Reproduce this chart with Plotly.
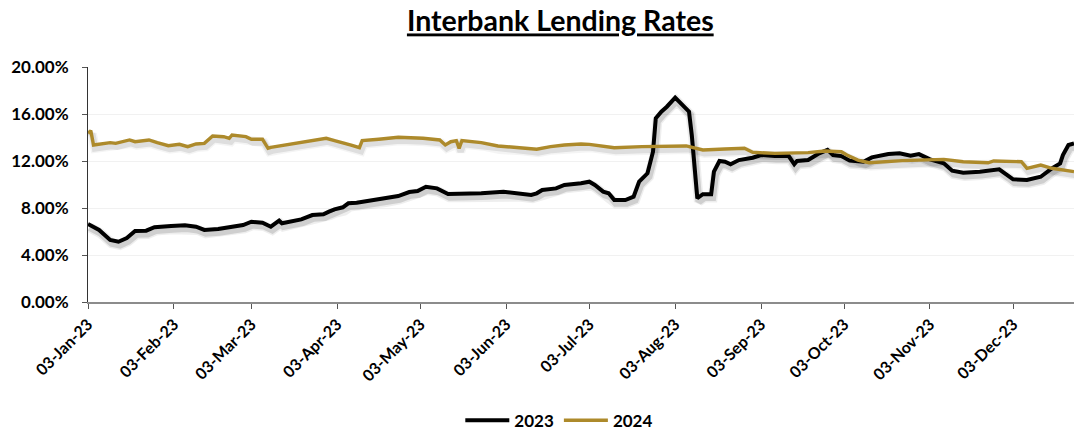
import plotly.graph_objects as go

# Interbank rate, 2023 (percent), sampled on axis dates
dates_2023 = [
    "2023-01-03", "2023-01-07", "2023-01-11", "2023-01-14", "2023-01-17", "2023-01-20",
    "2023-01-24", "2023-01-27", "2023-02-02", "2023-02-07", "2023-02-11", "2023-02-14",
    "2023-02-19", "2023-02-23", "2023-02-28", "2023-03-03", "2023-03-07", "2023-03-10",
    "2023-03-13", "2023-03-14", "2023-03-18", "2023-03-21", "2023-03-25", "2023-03-29",
    "2023-03-31", "2023-04-02", "2023-04-05", "2023-04-07", "2023-04-10", "2023-04-15",
    "2023-04-20", "2023-04-25", "2023-04-29", "2023-05-02", "2023-05-05", "2023-05-09",
    "2023-05-13", "2023-05-18", "2023-05-25", "2023-06-02", "2023-06-07", "2023-06-12",
    "2023-06-14", "2023-06-16", "2023-06-21", "2023-06-24", "2023-06-30", "2023-07-03",
    "2023-07-05", "2023-07-08", "2023-07-10", "2023-07-12", "2023-07-16", "2023-07-19",
    "2023-07-21", "2023-07-24", "2023-07-26", "2023-07-27", "2023-07-29", "2023-07-31",
    "2023-08-03", "2023-08-05", "2023-08-08", "2023-08-09", "2023-08-10", "2023-08-11",
    "2023-08-13", "2023-08-16", "2023-08-17", "2023-08-19", "2023-08-21", "2023-08-23",
    "2023-08-26", "2023-08-31", "2023-09-03", "2023-09-08", "2023-09-13", "2023-09-15",
    "2023-09-16", "2023-09-20", "2023-09-24", "2023-09-27", "2023-09-29", "2023-10-02",
    "2023-10-05", "2023-10-10", "2023-10-13", "2023-10-19", "2023-10-23", "2023-10-27",
    "2023-10-30", "2023-11-03", "2023-11-08", "2023-11-11", "2023-11-15", "2023-11-21",
    "2023-11-28", "2023-12-01", "2023-12-03", "2023-12-08", "2023-12-13", "2023-12-17",
    "2023-12-20", "2023-12-21", "2023-12-23", "2023-12-25",
]
rates_2023 = [
    6.64, 6.13, 5.28, 5.13, 5.45, 6.04,
    6.07, 6.36, 6.47, 6.53, 6.41, 6.13,
    6.21, 6.36, 6.55, 6.83, 6.75, 6.41,
    6.92, 6.70, 6.89, 7.03, 7.40, 7.46,
    7.69, 7.89, 8.06, 8.40, 8.45, 8.62,
    8.79, 9.02, 9.36, 9.45, 9.81, 9.67,
    9.19, 9.19, 9.25, 9.39, 9.25, 9.11,
    9.25, 9.53, 9.67, 9.96, 10.10, 10.24,
    9.96, 9.39, 9.25, 8.68, 8.68, 8.96,
    10.24, 10.95, 12.79, 15.63, 16.20, 16.62,
    17.39, 16.91, 16.20, 14.21, 11.09, 8.83,
    9.17, 9.17, 11.09, 12.00, 11.94, 11.72,
    12.08, 12.28, 12.51, 12.42, 12.42, 11.72,
    12.00, 12.08, 12.65, 12.95, 12.51, 12.42,
    12.03, 11.94, 12.31, 12.59, 12.65, 12.45,
    12.59, 12.14, 11.80, 11.17, 11.00, 11.09,
    11.29, 10.81, 10.44, 10.38, 10.66, 11.38,
    11.80, 12.51, 13.36, 13.50,
]

# Interbank rate, 2024 (percent), on the same day-of-year axis
dates_2024 = [
    "2023-01-03", "2023-01-04", "2023-01-05", "2023-01-09", "2023-01-11", "2023-01-13",
    "2023-01-15", "2023-01-18", "2023-01-20", "2023-01-25", "2023-01-28", "2023-02-01",
    "2023-02-05", "2023-02-08", "2023-02-11", "2023-02-14", "2023-02-17", "2023-02-21",
    "2023-02-23", "2023-02-24", "2023-03-01", "2023-03-03", "2023-03-07", "2023-03-09",
    "2023-03-10", "2023-03-15", "2023-03-21", "2023-03-27", "2023-03-30", "2023-04-02",
    "2023-04-05", "2023-04-08", "2023-04-11", "2023-04-12", "2023-04-18", "2023-04-25",
    "2023-05-04", "2023-05-10", "2023-05-12", "2023-05-14", "2023-05-16", "2023-05-17",
    "2023-05-18", "2023-05-25", "2023-05-31", "2023-06-08", "2023-06-14", "2023-06-19",
    "2023-06-24", "2023-06-30", "2023-07-03", "2023-07-12", "2023-07-22", "2023-08-07",
    "2023-08-13", "2023-08-21", "2023-08-28", "2023-08-31", "2023-09-08", "2023-09-20",
    "2023-09-26", "2023-10-02", "2023-10-04", "2023-10-08", "2023-10-12", "2023-10-24",
    "2023-11-08", "2023-11-15", "2023-11-24", "2023-11-26", "2023-12-06", "2023-12-08",
    "2023-12-13", "2023-12-17", "2023-12-25",
]
rates_2024 = [
    14.36, 14.58, 13.36, 13.50, 13.56, 13.50,
    13.64, 13.79, 13.64, 13.79, 13.56, 13.30,
    13.42, 13.22, 13.45, 13.50, 14.13, 14.07,
    13.93, 14.21, 14.07, 13.85, 13.85, 13.08,
    13.16, 13.36, 13.59, 13.79, 13.93, 13.73,
    13.56, 13.36, 13.13, 13.73, 13.85, 14.02,
    13.93, 13.79, 13.36, 13.64, 13.73, 13.08,
    13.73, 13.56, 13.28, 13.16, 13.00, 13.22,
    13.36, 13.45, 13.42, 13.13, 13.22, 13.28,
    12.94, 13.02, 13.08, 12.74, 12.65, 12.71,
    12.85, 12.79, 12.51, 12.08, 11.85, 12.03,
    12.14, 11.94, 11.85, 12.00, 11.94, 11.38,
    11.66, 11.38, 11.09,
]

series_names = ["2023", "2024"]
y_ticks = [0, 4, 8, 12, 16, 20]
tick_dates = [
    "2023-01-03", "2023-02-03", "2023-03-03", "2023-04-03", "2023-05-03", "2023-06-03",
    "2023-07-03", "2023-08-03", "2023-09-03", "2023-10-03", "2023-11-03", "2023-12-03",
]
title_text = "Interbank Lending Rates"

FONT = "Lato, 'Open Sans', Arial, sans-serif"
GOLD = "#AD8A2B"
X_RANGE = ["2023-01-03", "2023-12-25"]
Y_RANGE = [0, 20]
# Hidden base axes for the shadow layer, nudged so it sits a little right and below
SHADOW_X_RANGE = ["2023-01-02 11:00", "2023-12-24 11:00"]
SHADOW_Y_RANGE = [0.28, 20.28]

fig = go.Figure()

series = [
    (dates_2023, rates_2023, series_names[0], "#000000", 4.0, 0.13),
    (dates_2024, rates_2024, series_names[1], GOLD, 3.4, 0.09),
]

# soft shadows on the hidden base axes (drawn underneath)
for xs, ys, name, color, width, alpha in series:
    for extra, a in ((6, alpha * 0.5), (3, alpha)):
        fig.add_trace(go.Scatter(
            x=xs, y=ys, mode="lines", showlegend=False, hoverinfo="skip",
            line=dict(color=f"rgba(0,0,0,{a:.3f})", width=width + extra),
            xaxis="x", yaxis="y",
        ))

# the series themselves on the visible overlay axes
for xs, ys, name, color, width, alpha in series:
    fig.add_trace(go.Scatter(
        x=xs, y=ys, name=name, mode="lines",
        line=dict(color=color, width=width),
        xaxis="x2", yaxis="y2",
    ))

fig.update_layout(
    width=1074, height=430,
    margin=dict(l=88, r=0, t=67, b=128, autoexpand=False),
    paper_bgcolor="white", plot_bgcolor="white",
    font=dict(family=FONT, color="#000000", size=16, weight="bold"),
    title=dict(
        text=f"<span style='text-decoration:underline'>{title_text}</span>",
        x=0.479, xref="paper", xanchor="center",
        y=0.95, yref="container", yanchor="middle",
        font=dict(family=FONT, size=28.5, color="#000000", weight="bold"),
    ),
    showlegend=True,
    legend=dict(
        orientation="h", x=0.478, xanchor="center", y=-0.505, yanchor="middle",
        font=dict(family=FONT, size=17, weight="bold"),
        itemwidth=44, traceorder="normal", bgcolor="rgba(0,0,0,0)",
    ),
    xaxis=dict(type="date", range=SHADOW_X_RANGE, showticklabels=False,
               ticks="", showline=False, showgrid=False, zeroline=False,
               automargin=False),
    yaxis=dict(range=SHADOW_Y_RANGE, showticklabels=False, ticks="",
               showline=False, showgrid=False, zeroline=False,
               automargin=False),
    xaxis2=dict(
        type="date", range=X_RANGE, overlaying="x", side="bottom", anchor="y2",
        tickvals=tick_dates, tickformat="%d-%b-%y", tickangle=-45,
        ticks="outside", ticklen=5, tickcolor="#555555", tickwidth=1,
        showline=True, linecolor="#8C8C8C", linewidth=1.5,
        showgrid=False, zeroline=False, automargin=False,
        tickfont=dict(family=FONT, size=16, weight="bold", color="#000000"),
    ),
    yaxis2=dict(
        range=Y_RANGE, overlaying="y", side="left", anchor="x2",
        tickvals=y_ticks, ticktext=[f"{v:.2f}%" for v in y_ticks],
        ticks="outside", ticklen=5, tickcolor="#555555", tickwidth=1,
        showline=True, linecolor="#333333", linewidth=1,
        showgrid=True, gridcolor="#F1F1F1", gridwidth=1,
        zeroline=False, ticklabelstandoff=10, automargin=False,
        tickfont=dict(family=FONT, size=17, weight="bold", color="#000000"),
    ),
)

fig.write_html("out.html")
